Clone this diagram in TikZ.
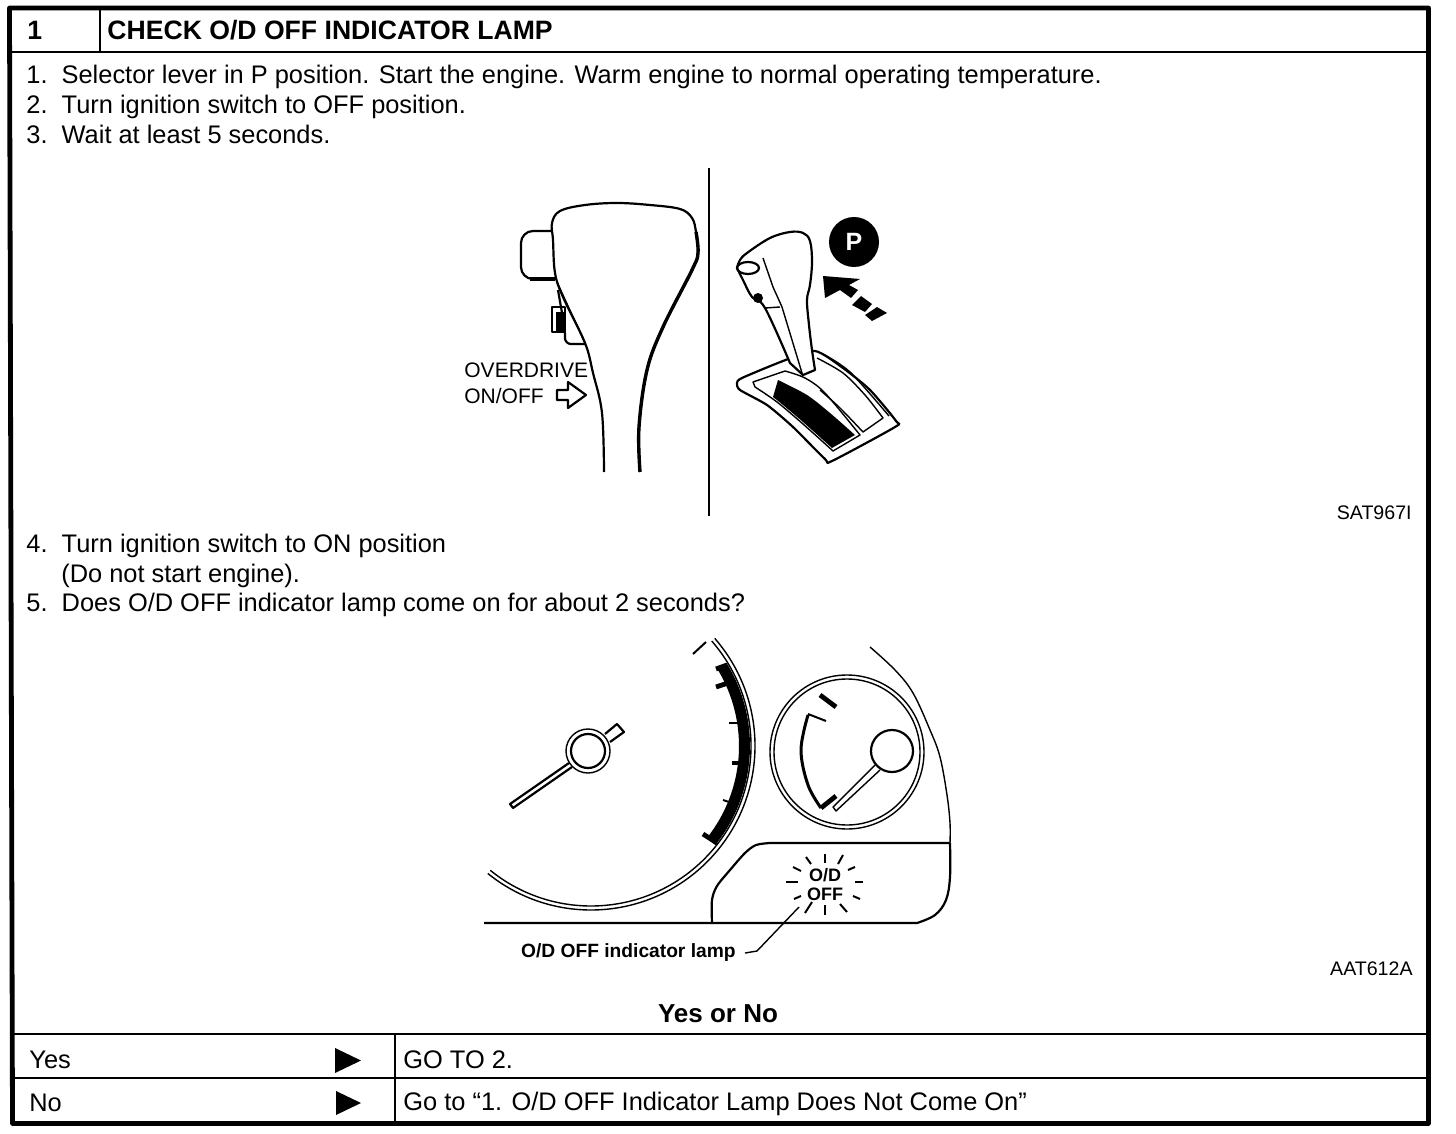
\documentclass[tikz,border=0pt]{standalone}
\usepackage{fontspec}
\setmainfont{Liberation Sans}
\usepackage{tikz}
\usetikzlibrary{calc,positioning}

\begin{document}
\begin{tikzpicture}[x=0.5pt, y=-0.5pt, line join=round]
    \tikzset{bodytext/.style={anchor=base west, inner sep=0pt, font=\fontsize{12.7}{14}\selectfont}}
    \tikzset{headtext/.style={anchor=base west, inner sep=0pt, font=\fontsize{13.3}{15}\selectfont\bfseries}}
    \tikzset{smalltext/.style={anchor=base east, inner sep=0pt, font=\fontsize{9.8}{11}\selectfont}}
    \tikzset{partext/.style={anchor=base west, inner sep=0pt, font=\fontsize{10.5}{12}\selectfont}}
    \tikzset{lamptext/.style={anchor=base, inner sep=0pt, font=\fontsize{9}{11}\selectfont\bfseries}}
    \tikzset{thinline/.style={line width=0.7pt}}
    \tikzset{midline/.style={line width=1.1pt}}
    \tikzset{heavyline/.style={line width=1.7pt}}
    \tikzset{tabrule/.style={line width=1pt}}
    \tikzset{tickbar/.style={line width=2.4pt}}
    \tikzset{tickthin/.style={line width=1pt}}
    \useasboundingbox (0,0) rectangle (1456,1134);

    % FRAME AND TABLE RULES
    \draw[line width=2.4pt] (9.5,8) -- (1428.5,8) -- (1428.5,1123.5) -- (12.5,1123.5) -- cycle;
    \draw[tabrule] (10,52) -- (1427,52);
    \draw[tabrule] (100,8) -- (100,52);
    \draw[tabrule] (13,1034) -- (1427,1034);
    \draw[tabrule] (13,1077.5) -- (1427,1077.5);
    \draw[tabrule] (395,1034) -- (395,1122);

    % TEXT
    \node[headtext] (stepno) at (27,40) {1};
    \node[headtext] (title) at (107,40) {CHECK O/D OFF INDICATOR LAMP};
    \node[bodytext] (line1) at (26,84) {1.\ \ Selector lever in P position. Start the engine. Warm engine to normal operating temperature.};
    \node[bodytext] (line2) at (26,114) {2.\ \ Turn ignition switch to OFF position.};
    \node[bodytext] (line3) at (26,144) {3.\ \ Wait at least 5 seconds.};
    \node[bodytext] (line4) at (26,552) {4.\ \ Turn ignition switch to ON position};
    \node[bodytext] (line4b) at (61,582) {(Do not start engine).};
    \node[bodytext] (line5) at (26,611) {5.\ \ Does O/D OFF indicator lamp come on for about 2 seconds?};
    \node[smalltext] (sat) at (1412,519) {SAT967I};
    \node[smalltext] (aat) at (1413,975) {AAT612A};
    \node[headtext, anchor=base, font=\fontsize{13}{15}\selectfont\bfseries] (yesno) at (718,1022) {Yes or No};
    \node[bodytext] (yes) at (29,1068) {Yes};
    \node[bodytext] (no) at (29,1111) {No};
    \node[bodytext] (goyes) at (403,1068) {GO TO 2.};
    \node[bodytext] (gono) at (403,1110) {Go to “1. O/D OFF Indicator Lamp Does Not Come On”};
    \fill (335,1048) -- (361,1060.5) -- (335,1073) -- cycle;
    \fill (336,1091) -- (361,1103) -- (336,1115) -- cycle;

    % DIVIDER BETWEEN LEVER VIEWS
    \draw[midline] (709,168) -- (709,516);

    % LEVER, SIDE VIEW
    \draw[midline] plot[smooth, tension=0.6] coordinates {(604,472) (602,413) (593,373) (585,343) (563,297) (555,273) (553,240) (552,223) (560,211) (585,205) (617,203) (650,205) (680,209) (692,218) (696,232) (698,253) (692,270) (663,327) (647,370) (639,427) (640,472)};
    \draw[heavyline] plot[smooth, tension=0.6] coordinates {(696,232) (698,253) (692,270) (663,327) (647,370) (639,427) (640,472)};
    \draw[midline, rounded corners=6pt] (552,231) -- (521,231) -- (521,279) -- (555,279);
    \draw[heavyline] (530,279) -- (555,279);
    \draw[thinline] (557,282) -- (585,343);
    \draw[midline, rounded corners=3pt] (558,290) -- (565,330) -- (565,344) -- (585,344);
    \draw[thinline] (552,307) rectangle (565,332);
    \fill (556,312) rectangle (565,332);
    \node[partext] (overdrive) at (464,377) {OVERDRIVE};
    \node[partext] (onoff) at (464,403) {ON/OFF};
    \draw[midline] (557,390) -- (568,390) -- (568,382) -- (586,395) -- (568,408) -- (568,400) -- (557,400) -- cycle;

    % LEVER, GATE VIEW
    \draw[midline, fill=white] plot[smooth cycle, tension=0.4] coordinates {(737,383) (742,378) (783,361) (815,351) (843,368) (870,390) (896,421) (895,427) (832,461) (825,459) (793,427) (767,405) (740,390)};
    \draw[thinline] (753,382) -- plot[smooth] coordinates {(785,371) (805,378) (825,393) (860,435)} -- plot[smooth] coordinates {(833,451) (803,424) (777,402) (755,387)} -- cycle;
    \fill plot[smooth] coordinates {(778,380) (807,395) (830,413) (855,435)} -- plot[smooth] coordinates {(832,448) (803,422) (783,405) (773,397)} -- cycle;
    \draw[thinline] plot[smooth] coordinates {(817,358) (843,373) (865,395) (883,418)} -- plot[smooth] coordinates {(863,432) (840,408) (820,390)};
    \draw[thinline] plot[smooth] coordinates {(823,354) (850,372) (889,416)};
    \draw[midline, fill=white] plot[smooth, tension=0.6] coordinates {(737,268) (740,260) (747,253) (770,238) (790,232) (803,233) (810,241) (812,262) (810,285) (807,300) (809,325) (812,350) (815,370)} -- (803,375) -- plot[smooth, tension=0.6] coordinates {(790,363) (765,308) (752,297) (743,280) (737,268)} -- cycle;
    \draw[thinline] (763,258) -- (773,287) -- (782,307) -- (802,373);
    \draw[thinline] (765,308) -- (780,307);
    \draw[midline] (748,268) ellipse[x radius=11, y radius=6];
    \fill (758,298) circle[radius=5];
    \node[circle, fill=black, minimum size=25pt, inner sep=0pt, font=\fontsize{12.5}{13}\selectfont\bfseries, text=white] (pmark) at (854,242) {P};
    \fill (823,276) -- (860,279) -- (849,285) -- (858,290) -- (851,298) -- (840,290) -- (825,298) -- cycle;
    \fill (861,296) -- (872,304) -- (865,312) -- (852,305) -- cycle;
    \fill (877,307) -- (887,313) -- (872,321) -- (865,315) -- cycle;

    % LARGE GAUGE
    \begin{scope}[shift={(591,746)}]
        \draw[thinline] (-41:164) arc[start angle=-41, end angle=129, radius=164];
        \draw[thinline] (-41:160) arc[start angle=-41, end angle=129, radius=160];
        \fill (-31.5:159) arc[start angle=-31.5, end angle=38.5, radius=159] -- (38.5:148) arc[start angle=38.5, end angle=-31.5, radius=148] -- cycle;
    \end{scope}
    \draw[tickthin] (706,642) -- (693,654);
    \foreach \xa/\ya/\xb/\yb in {716/669/727/665, 716/687/728/683, 732/763/742/763, 703/834/717/843} {
        \draw[tickbar] (\xa,\ya) -- (\xb,\yb);
    }
    \foreach \xa/\ya/\xb/\yb in {729/723/740/723, 723/800/732/803} {
        \draw[tickthin] (\xa,\ya) -- (\xb,\yb);
    }
    \draw[midline] (569,763) -- (510,804) -- (513,808) -- (572,767);
    \draw[midline] (605,734) -- (617,724) -- (624,732) -- (610,742);
    \draw[thinline] (588,751) circle[radius=22];
    \draw[midline] (588,751) circle[radius=17];

    % SMALL GAUGE
    \draw[thinline] (847,752) circle[radius=77];
    \draw[thinline] (847,752) circle[radius=73];
    \draw[midline] (892,751) circle[radius=21];
    \draw[thinline] (875,765) -- (833,807) -- (836,811) -- (880,770);
    \draw[line width=1.5pt] plot[smooth, tension=0.6] coordinates {(808,715) (801,750) (808,785) (821,808)};
    \draw[tickthin] (808,714) -- (826,721);
    \draw[tickbar] (820,695) -- (836,707);
    \draw[tickbar] (821,808) -- (836,796);

    % HOUSING
    \draw[thinline] plot[smooth, tension=0.6] coordinates {(870,647) (895,670) (913,693) (930,730) (940,757) (947,795) (950,823) (950,843)};
    \draw[midline] (484,923) -- plot[smooth, tension=0.6] coordinates {(917,923) (935,915) (946,900) (950,877) (950,843)};
    \draw[midline] (950,843) -- plot[smooth, tension=0.5] coordinates {(770,843) (756,845) (745,853) (730,870) (717,886) (712,900) (712,923)};

    % LAMP
    \node[lamptext] (lampod) at (825,881) {O/D};
    \node[lamptext] (lampoff) at (825,900) {OFF};
    \foreach \xa/\ya/\xb/\yb in {806/857/811/864, 825/854/825/863, 843/855/838/864, 855/867/848/870, 855/882/863/882, 853/896/860/899, 840/904/847/912, 825/905/825/915, 812/902/805/913, 801/896/794/899, 786/882/798/882, 793/867/801/871} {
        \draw[tickthin] (\xa,\ya) -- (\xb,\yb);
    }
    \node[lamptext, anchor=base east, font=\fontsize{9.6}{11}\selectfont\bfseries] (lamplabel) at (736,957) {O/D OFF indicator lamp};
    \coordinate (lamptip) at (799,907);
    \coordinate (lampbend) at (757,951);
    \draw[thinline] ($(lamplabel.east)+(9,1)$) -- (lampbend) -- (lamptip);
\end{tikzpicture}
\end{document}
